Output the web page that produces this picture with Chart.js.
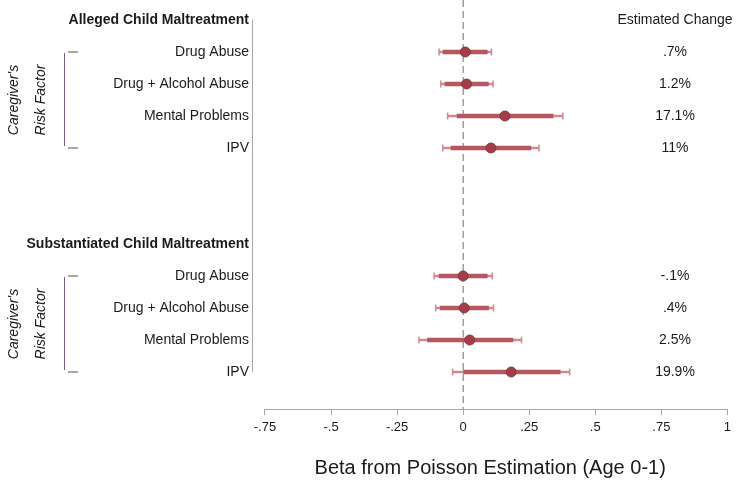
<!DOCTYPE html>
<html>
<head>
<meta charset="utf-8">
<script src="https://cdn.jsdelivr.net/npm/chart.js@4.4.0/dist/chart.umd.min.js"></script>
<style>
  html, body { margin: 0; padding: 0; background: #fff; }
  canvas { display: block; }
</style>
</head>
<body>
<canvas id="chart" width="736" height="482"></canvas>
<script>
// ---- données ----
const rowLabels = ['Drug Abuse', 'Drug + Alcohol Abuse', 'Mental Problems', 'IPV'];
const groupTitles = ['Alleged Child Maltreatment', 'Substantiated Child Maltreatment'];
const groupStart = [0, 7];   // position du titre de chaque bloc

const allegedBeta  = [0.008, 0.013, 0.158, 0.105];
const allegedInner = [[-0.076, 0.091], [-0.069, 0.095], [-0.023, 0.340], [-0.046, 0.256]];
const allegedOuter = [[-0.091, 0.107], [-0.085, 0.113], [-0.059, 0.377], [-0.077, 0.287]];
const allegedChange = ['.7%', '1.2%', '17.1%', '11%'];

const substBeta  = [0.000, 0.004, 0.025, 0.182];
const substInner = [[-0.091, 0.091], [-0.087, 0.096], [-0.135, 0.188], [0.000, 0.367]];
const substOuter = [[-0.110, 0.110], [-0.104, 0.115], [-0.167, 0.221], [-0.040, 0.403]];
const substChange = ['-.1%', '.4%', '2.5%', '19.9%'];

const xTicks = [-0.75, -0.5, -0.25, 0, 0.25, 0.5, 0.75, 1];
const xTickLabels = ['-.75', '-.5', '-.25', '0', '.25', '.5', '.75', '1'];

const changeTitle = 'Estimated Change';
const sideTitle = ["Caregiver's", 'Risk Factor'];
const xTitle = 'Beta from Poisson Estimation (Age 0-1)';

// ---- construction des lignes ----
const yLabels = [groupTitles[0], ...rowLabels, '', '', groupTitles[1], ...rowLabels];
const betas = [allegedBeta, substBeta];
const inners = [allegedInner, substInner];
const outers = [allegedOuter, substOuter];
const changes = [allegedChange, substChange];

const pointData = [], innerData = [], outerData = [], capData = [];
groupStart.forEach((s, g) => {
  rowLabels.forEach((_, i) => {
    const y = s + 1 + i;
    pointData.push({ x: betas[g][i], y });
    innerData.push({ x: inners[g][i], y });
    outerData.push({ x: outers[g][i], y });
    capData.push({ x: outers[g][i][0], y }, { x: outers[g][i][1], y });
  });
});

const yMin = -0.625, yMax = 12.156;
const textColor = '#1a1a1a';
const axisColor = '#a6a6a6';
const FONT = "'Liberation Sans', Arial, sans-serif";
Chart.defaults.font.family = FONT;
Chart.defaults.color = textColor;

// ---- plugin : axes décalés, bracket, colonne de droite ----
const annotate = {
  id: 'annotate',
  afterDraw(chart) {
    const { ctx, chartArea, scales: { x, y } } = chart;
    ctx.save();
    ctx.strokeStyle = axisColor;
    ctx.lineWidth = 1;

    // axe y (du premier au dernier libellé)
    const ax = Math.round(chartArea.left) - 0.5;
    ctx.beginPath();
    ctx.moveTo(ax, y.getPixelForValue(0));
    ctx.lineTo(ax, y.getPixelForValue(11));
    ctx.stroke();

    // axe x (de -.75 à 1)
    const by = Math.round(chartArea.bottom) + 0.5;
    ctx.beginPath();
    ctx.moveTo(x.getPixelForValue(xTicks[0]), by);
    ctx.lineTo(x.getPixelForValue(xTicks[xTicks.length - 1]), by);
    ctx.stroke();

    // colonne "Estimated Change"
    ctx.fillStyle = textColor;
    ctx.font = '14px ' + FONT;
    ctx.textAlign = 'center';
    ctx.textBaseline = 'middle';
    ctx.fillText(changeTitle, 675, y.getPixelForValue(0));
    groupStart.forEach((s, g) => {
      changes[g].forEach((c, i) => ctx.fillText(c, 675, y.getPixelForValue(s + 1 + i)));
    });

    // bracket "Caregiver's Risk Factor"
    groupStart.forEach(s => {
      const a = y.getPixelForValue(s + 1);
      const b = y.getPixelForValue(s + 4);
      ctx.strokeStyle = '#7b5a8c';
      ctx.beginPath();
      ctx.moveTo(64.5, a + 1);
      ctx.lineTo(64.5, b - 2);
      ctx.stroke();
      ctx.strokeStyle = '#8c8c8c';
      ctx.lineWidth = 1.5;
      ctx.beginPath();
      ctx.moveTo(68, a); ctx.lineTo(78, a);
      ctx.moveTo(68, b); ctx.lineTo(78, b);
      ctx.stroke();
      ctx.lineWidth = 1;

      ctx.font = 'italic 14px ' + FONT;
      [14, 41].forEach((px, k) => {
        ctx.save();
        ctx.translate(px, (a + b) / 2);
        ctx.rotate(-Math.PI / 2);
        ctx.fillText(sideTitle[k], 0, 0);
        ctx.restore();
      });
    });
    ctx.restore();
  }
};

new Chart(document.getElementById('chart'), {
  type: 'bar',
  data: {
    datasets: [
      {
        type: 'line',
        data: [{ x: 0, y: yMin }, { x: 0, y: yMax }],
        borderColor: '#6e6e6e',
        borderWidth: 1,
        borderDash: [7, 4],
        pointRadius: 0,
        order: 6
      },
      {
        data: outerData,
        indexAxis: 'y',
        grouped: false,
        barThickness: 2,
        backgroundColor: '#cf8a90',
        borderWidth: 0,
        order: 5
      },
      {
        type: 'scatter',
        data: capData,
        pointStyle: 'line',
        rotation: 90,
        radius: 3.5,
        borderColor: '#cf8a90',
        borderWidth: 1.5,
        order: 4
      },
      {
        data: innerData,
        indexAxis: 'y',
        grouped: false,
        barThickness: 4,
        backgroundColor: '#b5555e',
        borderWidth: 0,
        order: 3
      },
      {
        type: 'scatter',
        data: pointData,
        pointRadius: 5,
        backgroundColor: '#a13f49',
        borderColor: '#8e3540',
        borderWidth: 1,
        order: 1
      }
    ]
  },
  options: {
    responsive: false,
    animation: false,
    indexAxis: 'y',
    layout: { autoPadding: false, padding: { left: 0, right: 8, top: 0, bottom: 0 } },
    plugins: { legend: { display: false }, tooltip: { enabled: false } },
    scales: {
      x: {
        type: 'linear',
        min: -0.7954,
        max: 1,
        afterBuildTicks: s => { s.ticks = xTicks.map(v => ({ value: v })); },
        afterFit: s => { s.height = 73; },
        ticks: {
          autoSkip: false,
          maxRotation: 0,
          padding: 5,
          font: { size: 13 },
          color: textColor,
          callback: (v, i) => xTickLabels[i]
        },
        grid: { display: true, drawOnChartArea: false, drawTicks: true, tickLength: 6, color: axisColor },
        border: { display: false },
        title: { display: true, text: xTitle, font: { size: 20 }, color: textColor, padding: { top: 0, bottom: 2 } }
      },
      y: {
        type: 'linear',
        reverse: true,
        offset: false,
        min: yMin,
        max: yMax,
        afterBuildTicks: s => { s.ticks = yLabels.map((_, i) => ({ value: i })); },
        afterFit: s => { s.width = 253; s.paddingTop = 0; s.paddingBottom = 0; },
        ticks: {
          autoSkip: false,
          padding: 4,
          color: textColor,
          font: c => ({ size: 14, weight: groupStart.includes(c.index) ? 'bold' : 'normal' }),
          callback: (v, i) => yLabels[i]
        },
        grid: { display: false, drawTicks: false },
        border: { display: false }
      }
    }
  },
  plugins: [annotate]
});
</script>
</body>
</html>
